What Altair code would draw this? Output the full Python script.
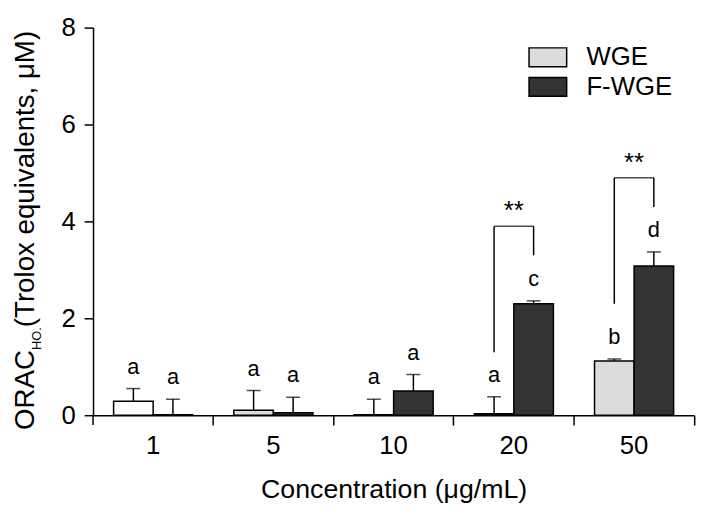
import altair as alt
import pandas as pd

# ---- data ----
concs = ["1", "5", "10", "20", "50"]
groups = ["WGE", "F-WGE"]
wge_mean = [0.29, 0.10, 0.01, 0.03, 1.12]
wge_upper = [0.55, 0.51, 0.33, 0.38, 1.16]
fwge_mean = [0.01, 0.05, 0.50, 2.30, 3.08]
fwge_upper = [0.33, 0.37, 0.84, 2.36, 3.37]
wge_letters = ["a", "a", "a", "a", "b"]
fwge_letters = ["a", "a", "a", "c", "d"]

sig_concs = ["20", "50"]
sig_top = [3.9, 4.9]
sig_left_bottom = [1.3, 2.3]
sig_right_bottom = [3.3, 4.3]
sig_label = ["**", "**"]

y_ticks = [0, 2, 4, 6, 8]

# ---- tables ----
rows = []
for i, c in enumerate(concs):
    rows.append({"conc": c, "group": "WGE", "mean": wge_mean[i], "upper": wge_upper[i], "letter": wge_letters[i]})
    rows.append({"conc": c, "group": "F-WGE", "mean": fwge_mean[i], "upper": fwge_upper[i], "letter": fwge_letters[i]})
df = pd.DataFrame(rows)

sig = pd.DataFrame({"conc": sig_concs, "top": sig_top, "lb": sig_left_bottom,
                    "rb": sig_right_bottom, "label": sig_label})
dummy = pd.DataFrame({"d": [0]})

W, H = 608, 392
FONT = "Liberation Sans"
step = W / len(concs)
pad_outer = 0.52
bar_w = step / (2 + 2 * pad_outer)
half = bar_w / 2

X = alt.X("conc:N", sort=concs, scale=alt.Scale(paddingInner=0, paddingOuter=0),
          axis=alt.Axis(title="Concentration (μg/mL)", bandPosition=1,
                        labelAngle=0, tickSize=10, tickWidth=1.5, domainWidth=1.5,
                        labelFontSize=26, titleFontSize=27, titleFontWeight="normal",
                        labelPadding=8, titlePadding=18, domainColor="black",
                        tickColor="black", labelColor="black", titleColor="black"))
XO = alt.XOffset("group:N", sort=groups, scale=alt.Scale(paddingInner=0, paddingOuter=pad_outer))
Yaxis = alt.Axis(values=y_ticks, title=None, grid=False, tickSize=9, tickWidth=1.5,
                 domainWidth=1.5, labelFontSize=26, labelPadding=9, domainColor="black",
                 tickColor="black", labelColor="black")
YS = alt.Scale(domain=[0, 8], nice=False)

color_field = alt.Color("group:N", sort=groups,
                        scale=alt.Scale(domain=groups, range=["#dcdcdc", "#333333"]),
                        legend=alt.Legend(title=None, orient="none", legendX=443, legendY=13,
                                          symbolType="M-1.2,-0.6H1.2V0.6H-1.2Z", symbolSize=1005,
                                          symbolStrokeColor="black", symbolStrokeWidth=1.5,
                                          labelFontSize=26, labelOffset=22, rowPadding=0,
                                          padding=0, labelColor="black", labelFont=FONT))

base = alt.Chart(df)
bars = base.mark_bar(stroke="black", strokeWidth=1.5).encode(
    x=X, xOffset=XO,
    y=alt.Y("mean:Q", scale=YS, axis=Yaxis),
    color=alt.condition("datum.conc == '1' && datum.group == 'WGE'", alt.value("white"), color_field),
)
err = base.mark_rule(color="black", strokeWidth=1.5).encode(
    x=X, xOffset=XO, y=alt.Y("mean:Q", scale=YS), y2="upper:Q")
caps = base.mark_tick(color="black", size=14, thickness=1.5).encode(
    x=X, xOffset=XO, y=alt.Y("upper:Q", scale=YS))
letters = base.mark_text(baseline="alphabetic", dy=-15, fontSize=22, font=FONT, color="black").encode(
    x=X, xOffset=XO, y=alt.Y("upper:Q", scale=YS), text="letter:N")

sb = alt.Chart(sig)
left = sb.mark_rule(color="black", strokeWidth=1.5, xOffset=-half).encode(
    x=X, y=alt.Y("lb:Q", scale=YS), y2="top:Q")
right = sb.mark_rule(color="black", strokeWidth=1.5, xOffset=half).encode(
    x=X, y=alt.Y("rb:Q", scale=YS), y2="top:Q")
topline = sb.mark_tick(color="black", size=2 * half, thickness=1.5).encode(
    x=X, y=alt.Y("top:Q", scale=YS))
stars = sb.mark_text(baseline="alphabetic", dy=-7, fontSize=26, font=FONT, color="black").encode(
    x=X, y=alt.Y("top:Q", scale=YS), text="label:N")

dc = alt.Chart(dummy)
first_tick = dc.mark_rule(color="black", strokeWidth=1.5).encode(
    x=alt.value(0), y=alt.value(H), y2=alt.value(H + 10))
yt1 = dc.mark_text(angle=270, align="left", baseline="alphabetic", fontSize=28, font=FONT,
                   color="black").encode(x=alt.value(-60), y=alt.value(407), text=alt.value("ORAC"))
yt2 = dc.mark_text(angle=270, align="left", baseline="alphabetic", fontSize=13, font=FONT,
                   color="black").encode(x=alt.value(-53), y=alt.value(326), text=alt.value("HO."))
yt3 = dc.mark_text(angle=270, align="left", baseline="alphabetic", fontSize=28, font=FONT,
                   color="black").encode(x=alt.value(-60), y=alt.value(303),
                                         text=alt.value(" (Trolox equivalents, μM)"))

chart = alt.layer(bars, err, caps, letters, left, right, topline, stars,
                  first_tick, yt1, yt2, yt3).properties(
    width=W, height=H,
    autosize=alt.AutoSizeParams(type="none"),
    padding={"left": 86, "top": 17, "right": 17, "bottom": 90},
).configure(font=FONT).configure_view(stroke=None).configure_axis(
    labelFont=FONT, titleFont=FONT)

chart.save("out.html", embed_options={"renderer": "svg", "actions": False})
